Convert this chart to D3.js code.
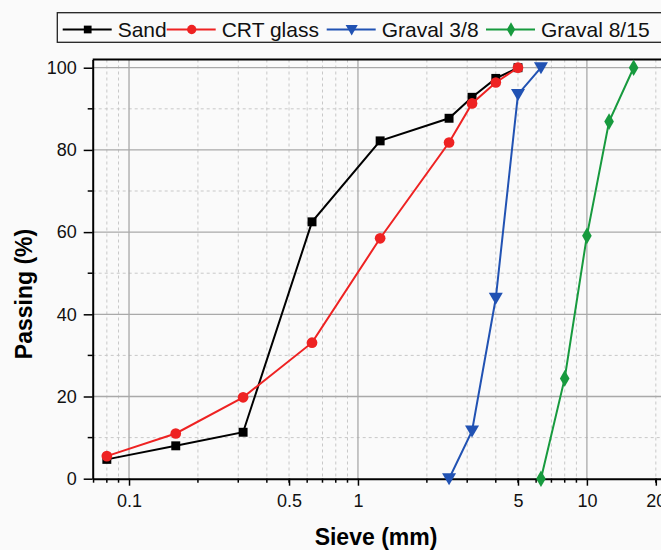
<!DOCTYPE html>
<html>
<head>
<meta charset="utf-8">
<script src="https://cdn.jsdelivr.net/npm/d3@7"></script>
<style>
  body { margin: 0; background: #fafafa; }
  svg { display: block; font-family: "Liberation Sans", Arial, sans-serif; }
</style>
</head>
<body>
<div id="chart"></div>
<script>
// sieve openings (mm)
const sandSieves = [0.08, 0.16, 0.315, 0.63, 1.25, 2.5, 3.15, 4, 5];
const sandPassing = [4.7, 8.0, 11.3, 62.5, 82.2, 87.7, 92.8, 97.4, 100];
const crtPassing = [5.5, 11.0, 19.8, 33.1, 58.5, 81.8, 91.3, 96.4, 100];
const gravel38Sieves = [2.5, 3.15, 4, 5, 6.3];
const gravel38Passing = [0, 11.6, 43.9, 93.5, 100];
const gravel815Sieves = [6.3, 8, 10, 12.5, 16];
const gravel815Passing = [0, 24.4, 59.1, 86.9, 100];

const xTickLabels = [0.1, 0.5, 1, 5, 10, 20];
const xMajorGrid = [0.1, 1, 10];
const xMinor = [0.07, 0.08, 0.09, 0.2, 0.3, 0.4, 0.5, 0.6, 0.7, 0.8, 0.9,
                2, 3, 4, 5, 6, 7, 8, 9, 20];
const yMajor = [0, 20, 40, 60, 80, 100];
const yMinor = [10, 30, 50, 70, 90];

const series = [
  {name: "Sand", xs: sandSieves, ys: sandPassing, color: "#000000", shape: d3.symbolSquare, size: 80, rot: 0},
  {name: "CRT glass", xs: sandSieves, ys: crtPassing, color: "#ee2222", shape: d3.symbolCircle, size: 90, rot: 0},
  {name: "Graval 3/8", xs: gravel38Sieves, ys: gravel38Passing, color: "#2152b3", shape: d3.symbolTriangle, size: 85, rot: 180},
  {name: "Graval 8/15", xs: gravel815Sieves, ys: gravel815Passing, color: "#179a3e", shape: d3.symbolDiamond, size: 80, rot: 0}
];

const W = 661, H = 550;
const svg = d3.select("#chart").append("svg").attr("width", W).attr("height", H);

const plotLeft = 92.7, plotBottom = 478.7, plotTop = 59.5, plotRight = 678;
const x = d3.scaleLog().domain([0.0694, 25]).range([plotLeft, plotRight]);
const y = d3.scaleLinear().domain([0, 102]).range([plotBottom, plotTop]);

// grid
const grid = svg.append("g");
grid.selectAll(".vmin").data(xMinor).join("line")
  .attr("x1", d => x(d)).attr("x2", d => x(d)).attr("y1", plotTop).attr("y2", plotBottom)
  .attr("stroke", "#c8c8c8").attr("stroke-width", 1).attr("stroke-dasharray", "3,3");
grid.selectAll(".hmin").data(yMinor).join("line")
  .attr("x1", plotLeft).attr("x2", plotRight).attr("y1", d => y(d)).attr("y2", d => y(d))
  .attr("stroke", "#c8c8c8").attr("stroke-width", 1).attr("stroke-dasharray", "3,3");
grid.selectAll(".vmaj").data(xMajorGrid).join("line")
  .attr("x1", d => x(d)).attr("x2", d => x(d)).attr("y1", plotTop).attr("y2", plotBottom)
  .attr("stroke", "#a9a9a9").attr("stroke-width", 1.3);
grid.selectAll(".hmaj").data(yMajor.slice(1)).join("line")
  .attr("x1", plotLeft).attr("x2", plotRight).attr("y1", d => y(d)).attr("y2", d => y(d))
  .attr("stroke", "#a9a9a9").attr("stroke-width", 1.3);

// top frame
svg.append("line").attr("x1", plotLeft).attr("x2", plotRight).attr("y1", plotTop).attr("y2", plotTop)
  .attr("stroke", "#000").attr("stroke-width", 2);

// axes
const xAxis = d3.axisBottom(x).tickValues(xTickLabels).tickFormat(d3.format("~g"))
  .tickSizeInner(7).tickSizeOuter(0).tickPadding(9);
const gx = svg.append("g").attr("transform", `translate(0,${plotBottom})`).call(xAxis);
gx.append("g").selectAll("line").data(xMinor).join("line")
  .attr("x1", d => x(d)).attr("x2", d => x(d)).attr("y1", 0).attr("y2", 4)
  .attr("stroke", "#000").attr("stroke-width", 1.5);

const yAxis = d3.axisLeft(y).tickValues(yMajor).tickSizeInner(9).tickSizeOuter(0).tickPadding(7);
const gy = svg.append("g").attr("transform", `translate(${plotLeft},0)`).call(yAxis);
gy.append("g").selectAll("line").data(yMinor).join("line")
  .attr("x1", -5).attr("x2", 0).attr("y1", d => y(d)).attr("y2", d => y(d))
  .attr("stroke", "#000").attr("stroke-width", 1.5);

[gx, gy].forEach(g => {
  g.select(".domain").attr("stroke", "#000").attr("stroke-width", 2);
  g.selectAll(".tick line").attr("stroke", "#000").attr("stroke-width", 1.5);
  g.selectAll(".tick text").attr("fill", "#111").style("font-size", "18px")
    .style("font-family", "'Liberation Sans', Arial, sans-serif");
});

// axis titles
svg.append("text").attr("x", 376).attr("y", 545).attr("text-anchor", "middle")
  .style("font-size", "23px").style("font-weight", "bold").text("Sieve (mm)");
svg.append("text").attr("transform", "translate(32,294) rotate(-90)").attr("text-anchor", "middle")
  .style("font-size", "23px").style("font-weight", "bold").text("Passing (%)");

// series
const line = d3.line().x(d => x(d[0])).y(d => y(d[1]));
series.forEach(s => {
  const pts = s.xs.map((v, i) => [v, s.ys[i]]);
  const g = svg.append("g");
  g.append("path").datum(pts).attr("d", line).attr("fill", "none")
    .attr("stroke", s.color).attr("stroke-width", 2);
  g.selectAll("path.m").data(pts).join("path").attr("class", "m")
    .attr("d", d3.symbol(s.shape, s.size))
    .attr("transform", d => `translate(${x(d[0])},${y(d[1]) + (s.rot ? -1.5 : 0)}) rotate(${s.rot})`)
    .attr("fill", s.color);
});

// legend
const leg = svg.append("g");
leg.append("rect").attr("x", 57.3).attr("y", 12.7).attr("width", 640).attr("height", 29.6)
  .attr("fill", "#fafafa").attr("stroke", "#222").attr("stroke-width", 1.3);
const legX = [62.7, 166.7, 326.7, 486];
series.forEach((s, i) => {
  const lx = legX[i];
  leg.append("line").attr("x1", lx).attr("x2", lx + 49).attr("y1", 29.5).attr("y2", 29.5)
    .attr("stroke", s.color).attr("stroke-width", 2);
  leg.append("path").attr("d", d3.symbol(s.shape, s.size * 0.75))
    .attr("transform", `translate(${lx + 25},${29.5 + (s.rot ? -1 : 0)}) rotate(${s.rot})`)
    .attr("fill", s.color);
  leg.append("text").attr("x", lx + 55).attr("y", 36.7)
    .style("font-size", "21px").attr("fill", "#111").text(s.name);
});
</script>
</body>
</html>
